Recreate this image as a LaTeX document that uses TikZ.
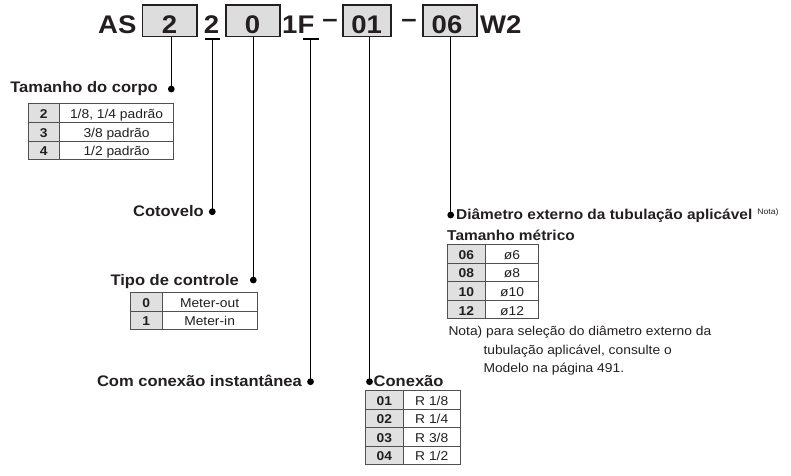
\documentclass[tikz,border=0pt]{standalone}
\usepackage{fontspec}
\setmainfont{Liberation Sans}[FakeStretch=1.08]
\definecolor{ink}{HTML}{231F20}
\definecolor{boxgray}{HTML}{DDDDDD}
\definecolor{cellgray}{HTML}{E0E0E0}
\definecolor{rulegray}{HTML}{505050}
\begin{document}
\begin{tikzpicture}[x=1pt,y=-1pt,
  hdr/.style={font=\fontsize{25.5}{30}\selectfont\bfseries, text=ink, inner sep=0pt},
  hbox/.style={draw=ink, fill=boxgray, line width=1.1pt, inner sep=0pt, minimum height=31.7pt},
  lbl/.style={font=\fontsize{15.3}{18}\selectfont\bfseries, text=ink, inner sep=0pt},
  lblsmall/.style={font=\fontsize{14.3}{17}\selectfont\bfseries, text=ink, inner sep=0pt},
  conn/.style={draw=black, line width=1.2pt},
  dotmark/.style={circle, fill=black, inner sep=0pt, minimum size=6.8pt},
  kcell/.style={draw=rulegray, fill=cellgray, line width=0.8pt, inner sep=0pt,
    font=\fontsize{12.8}{15}\selectfont\bfseries, text=ink, anchor=north west,
    text height=11pt, text depth=0pt},
  vcell/.style={draw=rulegray, fill=white, line width=0.8pt, inner sep=0pt,
    font=\fontsize{12.8}{15}\selectfont, text=ink, anchor=north west,
    text height=11pt, text depth=0pt},
  notetext/.style={font=\fontsize{12.8}{15}\selectfont, text=ink, inner sep=0pt, anchor=base west}
]
\useasboundingbox (0,0) rectangle (791,475);

% ---- header code ----
\node[hdr, anchor=base west] (tAS) at (98,33) {AS};
\node[hbox, minimum width=54.3pt] (b1) at (169.85,20.85) {};
\node[hdr, anchor=base] (t1) at (169.5,33) {2};
\node[hdr, anchor=base] (t2) at (211.5,33) {2};
\node[hbox, minimum width=54pt] (b2) at (253,20.85) {};
\node[hdr, anchor=base] (t3) at (252.5,33) {0};
\node[hdr, anchor=base west] (t4) at (282,33) {1F};
\node[hdr, anchor=base] (dash1) at (330,27.7) {–};
\node[hbox, minimum width=48pt] (b3) at (367,20.85) {};
\node[hdr, anchor=base] (t5) at (366.7,33) {01};
\node[hdr, anchor=base] (dash2) at (409,27.7) {–};
\node[hbox, minimum width=54pt] (b4) at (450,20.85) {};
\node[hdr, anchor=base] (t6) at (447,33) {06};
\node[hdr, anchor=base west] (t7) at (480,33) {W2};

% ---- connector end points ----
\coordinate (d1) at (171.3,89);
\coordinate (u2) at (212.3,39);
\coordinate (d2) at (212.3,211.7);
\coordinate (d3) at (253.3,280);
\coordinate (uF) at (310.5,39);
\coordinate (dF) at (310.5,381.7);
\coordinate (d5) at (369.5,381.7);
\coordinate (d6) at (450.7,215);

\draw[conn] (b1.south -| d1) -- (d1);
\draw[conn] ([xshift=-7.5pt]u2) -- ([xshift=7.5pt]u2);
\draw[conn] (u2) -- (d2);
\draw[conn] (b2.south -| d3) -- (d3);
\draw[conn] ([xshift=-8pt]uF) -- ([xshift=8pt]uF);
\draw[conn] (uF) -- (dF);
\draw[conn] (b3.south -| d5) -- (d5);
\draw[conn] (b4.south -| d6) -- (d6);

\node[dotmark] (p1) at (d1) {};
\node[dotmark] (p2) at (d2) {};
\node[dotmark] (p3) at (d3) {};
\node[dotmark] (p4) at (dF) {};
\node[dotmark] (p5) at (d5) {};
\node[dotmark] (p6) at (d6) {};

% ---- labels ----
\node[lbl, anchor=base east] (L1) at (158,92) {Tamanho do corpo};
\node[lbl, anchor=base east] (L2) at (204,216.7) {Cotovelo};
\node[lbl, anchor=base east] (L3) at (239,285) {Tipo de controle};
\node[lbl, anchor=base east] (L4) at (302,386.7) {Com conexão instantânea};
\node[lbl, anchor=base west] (L5) at (373.5,386.7) {Conexão};
\node[lblsmall, anchor=base west] (L6) at (456,219)
  {Diâmetro externo da tubulação aplicável\hspace{5pt}\raisebox{4.5pt}{\fontsize{8}{9}\selectfont\mdseries Nota)}};
\node[lblsmall, anchor=base west] (L7) at (447,240) {Tamanho métrico};

% ---- table: Tamanho do corpo ----
\foreach \k/\v [count=\i from 0] in {2/{1/8, 1/4 padrão},3/{3/8 padrão},4/{1/2 padrão}}{
  \node[kcell, minimum width=31.3pt, minimum height=18.93pt] (ak\i) at (27.7,{102.7+18.93*\i}) {\k};
  \node[vcell, minimum width=114.3pt, minimum height=18.93pt] (av\i) at (59,{102.7+18.93*\i}) {\v};
}
% ---- table: Tipo de controle ----
\foreach \k/\v [count=\i from 0] in {0/Meter-out,1/Meter-in}{
  \node[kcell, minimum width=31.7pt, minimum height=18.8pt] (bk\i) at (130,{291.7+18.8*\i}) {\k};
  \node[vcell, minimum width=95pt, minimum height=18.8pt] (bv\i) at (161.7,{291.7+18.8*\i}) {\v};
}
% ---- table: Tamanho metrico ----
\foreach \k/\v [count=\i from 0] in {06/ø6,08/ø8,10/ø10,12/ø12}{
  \node[kcell, minimum width=38.3pt, minimum height=18.6pt] (ck\i) at (446.7,{244+18.6*\i}) {\k};
  \node[vcell, minimum width=53.3pt, minimum height=18.6pt] (cv\i) at (485,{244+18.6*\i}) {\v};
}
% ---- table: Conexao ----
\foreach \k/\v [count=\i from 0] in {01/{R 1/8},02/{R 1/4},03/{R 3/8},04/{R 1/2}}{
  \node[kcell, minimum width=37.7pt, minimum height=18.5pt] (dk\i) at (365,{390+18.5*\i}) {\k};
  \node[vcell, minimum width=57.3pt, minimum height=18.5pt] (dv\i) at (402.7,{390+18.5*\i}) {\v};
}

% ---- note ----
\node[notetext] (n1) at (448.3,335.7) {Nota) para seleção do diâmetro externo da};
\node[notetext] (n2) at (483.3,354) {tubulação aplicável, consulte o};
\node[notetext] (n3) at (483.3,372) {Modelo na página 491.};
\end{tikzpicture}
\end{document}
